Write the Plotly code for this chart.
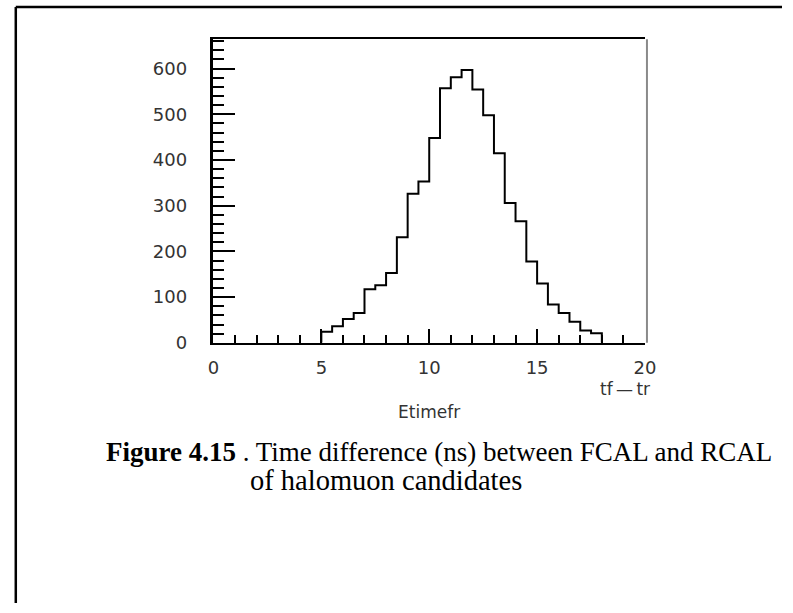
import plotly.graph_objects as go

# ---- data ----
bin_low = [5.0, 5.5, 6.0, 6.5, 7.0, 7.5, 8.0, 8.5, 9.0, 9.5, 10.0, 10.5, 11.0,
           11.5, 12.0, 12.5, 13.0, 13.5, 14.0, 14.5, 15.0, 15.5, 16.0, 16.5,
           17.0, 17.5]
counts = [24, 36, 52, 65, 117, 126, 153, 231, 326, 353, 448, 557, 581,
          597, 554, 498, 415, 306, 266, 178, 130, 84, 65, 46, 27, 21]
bin_width = 0.5
x_ticks = [0, 5, 10, 15, 20]
y_ticks = [0, 100, 200, 300, 400, 500, 600]

W, H = 793, 613

# step outline of the histogram
xs = [bin_low[0]] + bin_low + [bin_low[-1] + bin_width]
ys = [0] + counts + [0]

fig = go.Figure()
fig.add_trace(go.Scatter(
    x=xs, y=ys, mode="lines", line=dict(shape="hv", color="black", width=2),
    hoverinfo="skip", showlegend=False))

x0p, x1p = 212, 653
ytop, ybot = 40, 348.5
tickfont = dict(family="DejaVu Sans", size=18, color="#333333")

fig.update_layout(
    width=W, height=H, margin=dict(l=0, r=0, t=0, b=0),
    paper_bgcolor="white", plot_bgcolor="white",
    xaxis=dict(domain=[x0p / W, x1p / W], range=[0, 20],
               tickvals=x_ticks, ticktext=[str(v) for v in x_ticks],
               ticks="inside", ticklen=14, tickwidth=1.6, tickcolor="black",
               minor=dict(dtick=1, ticks="inside", ticklen=8, tickwidth=1.6,
                          tickcolor="black", showgrid=False),
               showline=True, linecolor="black", linewidth=2, mirror=True,
               showgrid=False, zeroline=False, tickfont=tickfont,
               ticklabelstandoff=8),
    yaxis=dict(domain=[(H - ybot) / H, (H - ytop) / H], range=[0, 664],
               tickvals=y_ticks, ticktext=[str(v) for v in y_ticks],
               ticks="inside", ticklen=22, tickwidth=1.6, tickcolor="black",
               minor=dict(dtick=20, ticks="inside", ticklen=11, tickwidth=1.6,
                          tickcolor="black", showgrid=False),
               showline=True, linecolor="black", linewidth=2.5,
               showgrid=False, zeroline=False, tickfont=tickfont,
               ticklabelstandoff=20),
)

# right frame edge (grey in the reference)
fig.add_shape(type="line", xref="paper", yref="paper",
              x0=655 / W, x1=655 / W, y0=(H - ybot) / H, y1=(H - ytop) / H,
              line=dict(color="#8a8a8a", width=2))

# outer page border (left and top edges)
fig.add_shape(type="line", xref="paper", yref="paper",
              x0=10 / W, x1=10 / W, y0=0, y1=(H - 7) / H,
              line=dict(color="black", width=2.5))
fig.add_shape(type="line", xref="paper", yref="paper",
              x0=10 / W, x1=1, y0=(H - 7) / H, y1=(H - 7) / H,
              line=dict(color="black", width=2.5))

def px_ann(text, x, y, font, xanchor="center"):
    fig.add_annotation(text=text, xref="paper", yref="paper",
                       x=x / W, y=(H - y) / H, xanchor=xanchor, yanchor="middle",
                       showarrow=False, font=font)

labfont = dict(family="DejaVu Sans", size=17, color="#333333")
px_ann("tf\u2009\u2014\u2009tr", 633, 395, labfont)
px_ann("Etimefr", 432, 419, labfont)

capfont = dict(family="Liberation Serif", size=27, color="black")
px_ann("<b>Figure 4.15</b> . Time difference (ns) between FCAL and RCAL",
       442, 459, capfont)
px_ann("of halomuon candidates", 247, 488,
       dict(family="Liberation Serif", size=28.5, color="black"), xanchor="left")

fig.write_html("out.html")
